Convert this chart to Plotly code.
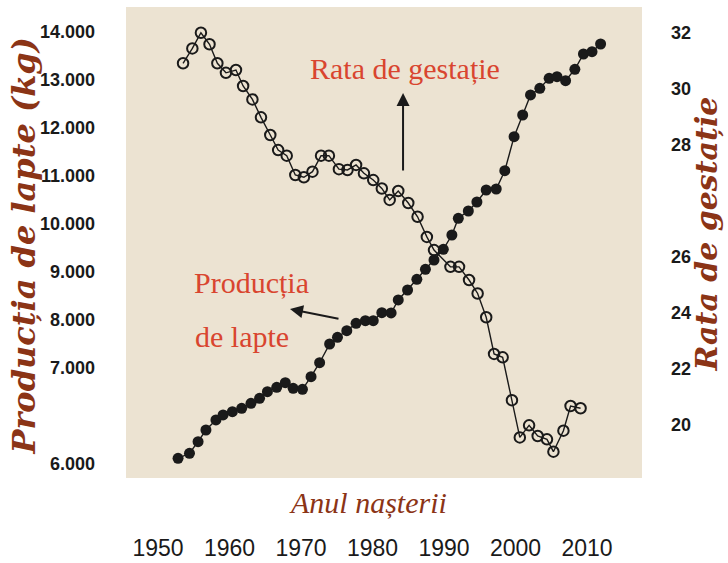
import plotly.graph_objects as go

# ---- data ----
milk_years = [1952.8, 1954.4, 1955.6, 1956.7, 1958.1, 1959.1, 1960.4, 1961.7, 1963.0, 1964.2,
              1965.3, 1966.6, 1967.8, 1968.9, 1970.2, 1971.4, 1972.6, 1974.0, 1975.1, 1976.4,
              1977.7, 1979.0, 1980.1, 1981.3, 1982.6, 1983.6, 1984.9, 1986.2, 1987.4, 1988.6,
              1989.9, 1991.1, 1992.0, 1993.4, 1994.6, 1995.9, 1997.3, 1998.5, 1999.8, 2001.0,
              2002.1, 2003.4, 2004.7, 2005.8, 2007.0, 2008.3, 2009.5, 2010.7, 2011.9]
milk_kg = [5118, 5223, 5465, 5708, 5917, 6021, 6090, 6160, 6265, 6369,
           6506, 6598, 6694, 6577, 6556, 6819, 7110, 7500, 7640, 7777,
           7931, 7985, 7985, 8152, 8146, 8417, 8625, 8848, 9056, 9250,
           9473, 9771, 10119, 10271, 10458, 10708, 10729, 11110, 11819, 12271,
           12688, 12827, 13035, 13069, 12985, 13223, 13542, 13590, 13750]

gest_years = [1953.5, 1954.8, 1956.0, 1957.2, 1958.3, 1959.5, 1960.9, 1961.9, 1963.2, 1964.4,
              1965.7, 1966.8, 1968.0, 1969.2, 1970.4, 1971.6, 1972.8, 1973.9, 1975.3, 1976.5,
              1977.7, 1978.8, 1980.1, 1981.3, 1982.4, 1983.6, 1985.0, 1986.3, 1987.6, 1988.6,
              1990.9, 1992.1, 1993.5, 1994.7, 1995.9, 1997.0, 1998.2, 1999.5, 2000.6, 2001.9,
              2003.1, 2004.4, 2005.3, 2006.7, 2007.7, 2009.1]
gest_rate = [30.92, 31.45, 32.01, 31.60, 30.92, 30.58, 30.68, 30.11, 29.63, 28.99,
             28.36, 27.82, 27.62, 26.93, 26.85, 27.05, 27.62, 27.62, 27.14, 27.11,
             27.29, 26.99, 26.75, 26.45, 26.04, 26.36, 25.93, 25.44, 24.72, 24.25,
             23.65, 23.65, 23.18, 22.70, 21.85, 20.54, 20.42, 18.89, 17.56, 17.99,
             17.61, 17.49, 17.05, 17.80, 18.68, 18.60]

x_ticks = [1950, 1960, 1970, 1980, 1990, 2000, 2010]
left_tickvals = [5000, 7000, 8000, 9000, 10000, 11000, 12000, 13000, 14000]
left_ticktext = ["6.000", "7.000", "8.000", "9.000", "10.000", "11.000", "12.000", "13.000", "14.000"]
right_tickvals = [18, 20, 22, 24, 28, 30, 32]
right_ticktext = ["20", "22", "24", "26", "28", "30", "32"]

RED = "#d9452f"
BROWN = "#8b3416"
INK = "#1a1a1a"

fig = go.Figure()
fig.add_trace(go.Scatter(
    x=gest_years, y=gest_rate, yaxis="y2", mode="lines+markers",
    line=dict(color=INK, width=1.4),
    marker=dict(symbol="circle-open", size=10.5, color=INK, line=dict(width=2)),
    showlegend=False))
fig.add_trace(go.Scatter(
    x=milk_years, y=milk_kg, mode="lines+markers",
    line=dict(color=INK, width=1.4),
    marker=dict(symbol="circle", size=11, color=INK),
    showlegend=False))

tickfont_y = dict(family="Liberation Sans, Arial", size=18, color=INK, weight="bold")

fig.update_layout(
    width=728, height=563,
    margin=dict(l=126, r=86, t=7, b=85),
    paper_bgcolor="white",
    plot_bgcolor="#ece3d2",
    xaxis=dict(range=[1945.52, 2017.69], tickvals=x_ticks, showgrid=False, zeroline=False,
               showline=False, ticks="", ticklabelstandoff=54, automargin=False,
               tickfont=dict(family="Liberation Sans, Arial", size=23, color=INK)),
    yaxis=dict(range=[4708, 14521], tickvals=left_tickvals, ticktext=left_ticktext,
               showgrid=False, zeroline=False, showline=False, ticks="", automargin=False,
               ticklabelstandoff=30, tickfont=tickfont_y),
    yaxis2=dict(range=[16.11, 32.93], tickvals=right_tickvals, ticktext=right_ticktext,
                overlaying="y", side="right", showgrid=False, zeroline=False, showline=False,
                ticks="", ticklabelstandoff=28, automargin=False, tickfont=tickfont_y),
)

serif = "Liberation Serif, Times New Roman, serif"
wide_serif = "DejaVu Serif, Liberation Serif, serif"
anns = [
    dict(text="Rata de gestație", x=1970.98, y=13250, xref="x", yref="y", xanchor="left",
         yanchor="middle", showarrow=False, font=dict(family=serif, size=30, color=RED)),
    dict(text="Producția", x=1954.76, y=8771, xref="x", yref="y", xanchor="left",
         yanchor="middle", showarrow=False, font=dict(family=serif, size=30, color=RED)),
    dict(text="de lapte", x=1954.9, y=7646, xref="x", yref="y", xanchor="left",
         yanchor="middle", showarrow=False, font=dict(family=serif, size=30, color=RED)),
    # arrows
    dict(x=1984.27, y=12729, ax=1984.27, ay=11083, xref="x", yref="y", axref="x", ayref="y",
         text="", showarrow=True, arrowhead=2, arrowsize=1.3, arrowwidth=2, arrowcolor=INK),
    dict(x=1968.46, y=8229, ax=1975.45, ay=8021, xref="x", yref="y", axref="x", ayref="y",
         text="", showarrow=True, arrowhead=2, arrowsize=1.3, arrowwidth=2, arrowcolor=INK),
    # axis titles
    dict(text="<b><i>Producția de lapte (kg)</i></b>", x=-0.197, y=0.492, xref="paper", yref="paper",
         textangle=-90, showarrow=False, xanchor="center", yanchor="middle",
         font=dict(family=wide_serif, size=32, color=BROWN)),
    dict(text="<b><i>Rata de gestație</i></b>", x=1.125, y=0.518, xref="paper", yref="paper",
         textangle=-90, showarrow=False, xanchor="center", yanchor="middle",
         font=dict(family=wide_serif, size=30, color=BROWN)),
    dict(text="<i>Anul nașterii</i>", x=0.469, y=-0.051, xref="paper", yref="paper",
         showarrow=False, xanchor="center", yanchor="middle",
         font=dict(family=serif, size=30, color=BROWN)),
]
fig.update_layout(annotations=anns)

fig.write_html("out.html", config={"displayModeBar": False},
               post_script="document.body.style.margin='0';")
